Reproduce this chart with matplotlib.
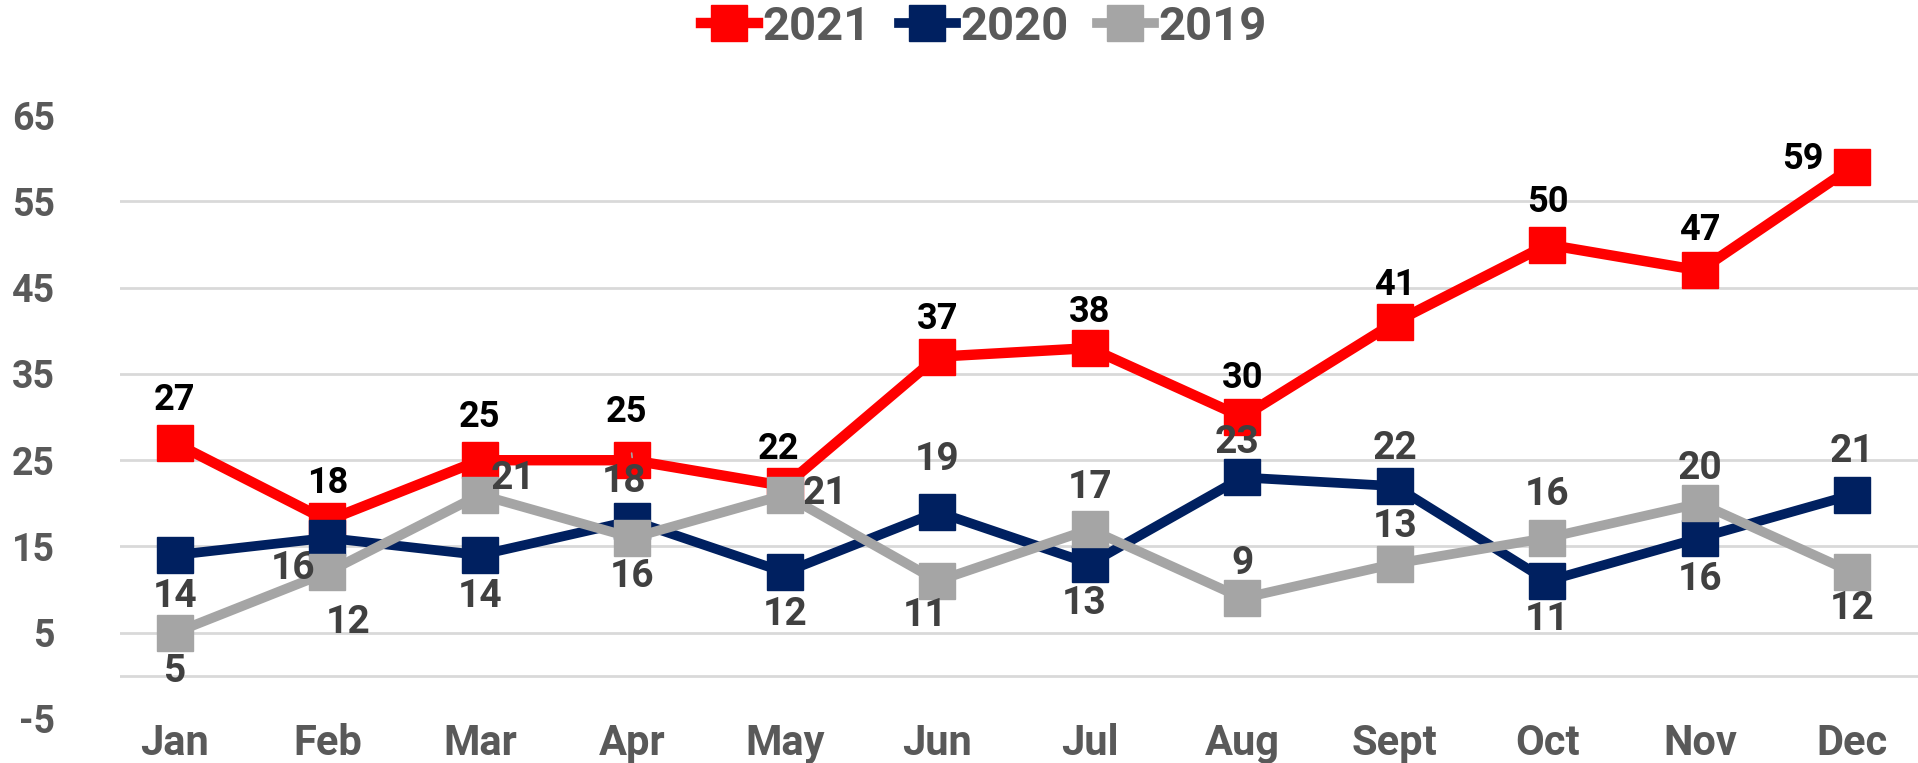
import matplotlib.pyplot as plt

plt.rcParams["axes.unicode_minus"] = False
plt.rcParams["font.family"] = ["Roboto", "DejaVu Sans"]
plt.rcParams["font.weight"] = "bold"

months = ["Jan", "Feb", "Mar", "Apr", "May", "Jun", "Jul", "Aug", "Sept", "Oct", "Nov", "Dec"]
y2021 = [27, 18, 25, 25, 22, 37, 38, 30, 41, 50, 47, 59]
y2020 = [14, 16, 14, 18, 12, 19, 13, 23, 22, 11, 16, 21]
y2019 = [5, 12, 21, 16, 21, 11, 17, 9, 13, 16, 20, 12]
yticks = [-5, 5, 15, 25, 35, 45, 55, 65]

# label offsets in points (dx, dy)
off2021 = [(0, 31), (0, 27), (0, 31), (-4, 35), (-5, 27), (0, 27),
           (0, 26), (0, 28), (0, 27), (0, 31), (0, 29), (-36, 6)]
off2020 = [(0, -30), (-25, -22), (0, -30), (-6, 28), (0, -30), (0, 38),
           (-4, -29), (-4, 25), (0, 27), (0, -28), (0, -30), (0, 31)]
off2019 = [(0, -28), (15, -36), (24, 12), (0, -28), (29, 1), (-9, -25),
           (0, 30), (0, 25), (0, 27), (0, 31), (0, 25), (0, -26)]

RED = "#FF0000"
NAVY = "#002060"
GRAY = "#A5A5A5"
TXT = "#595959"
LBL = "#404040"

fig = plt.figure(figsize=(19.18, 7.63), dpi=100)
ax = fig.add_axes([0.0626, 0.0577, 0.9374, 0.7913])

x = list(range(len(months)))
for g in [0, 5, 15, 25, 35, 45, 55]:
    ax.axhline(g, color="#D9D9D9", lw=2, zorder=0)

l1, = ax.plot(x, y2021, color=RED, lw=7.5, marker="s", ms=26, label="2021", zorder=3)
l2, = ax.plot(x, y2020, color=NAVY, lw=7, marker="s", ms=26, label="2020", zorder=4)
l3, = ax.plot(x, y2019, color=GRAY, lw=7, marker="s", ms=26, label="2019", zorder=5)

for i in x:
    kw = {}
    if i == 3:
        kw = dict(arrowprops=dict(arrowstyle="-", color="#A5A5A5", lw=1.2, shrinkA=15, shrinkB=2))
    ax.annotate(str(y2021[i]), (i, y2021[i]), xytext=off2021[i], textcoords="offset points",
                ha="center", va="center", fontsize=26, fontweight="bold",
                color="black", zorder=10, **kw)
    ax.annotate(str(y2020[i]), (i, y2020[i]), xytext=off2020[i], textcoords="offset points",
                ha="center", va="center", fontsize=28, fontweight="bold",
                color=LBL, zorder=10)
    ax.annotate(str(y2019[i]), (i, y2019[i]), xytext=off2019[i], textcoords="offset points",
                ha="center", va="center", fontsize=28, fontweight="bold",
                color=LBL, zorder=10)

ax.set_xlim(-0.36, 11.43)
ax.set_ylim(-5, 65)
ax.set_yticks(yticks)
ax.set_xticks(x)
ax.set_xticklabels(months)
ax.tick_params(axis="y", length=0, pad=47, labelsize=27, labelcolor=TXT)
ax.tick_params(axis="x", length=0, pad=3, labelsize=30, labelcolor=TXT)
for s in ax.spines.values():
    s.set_visible(False)

fig.legend(handles=[l1, l2, l3], loc="center", bbox_to_anchor=(0.513, 0.965), ncol=3,
           frameon=False, handlelength=1.2, handletextpad=0.1, columnspacing=0.6,
           prop={"weight": "bold", "size": 34}, labelcolor=TXT)

fig.savefig("out.png", dpi=100)
